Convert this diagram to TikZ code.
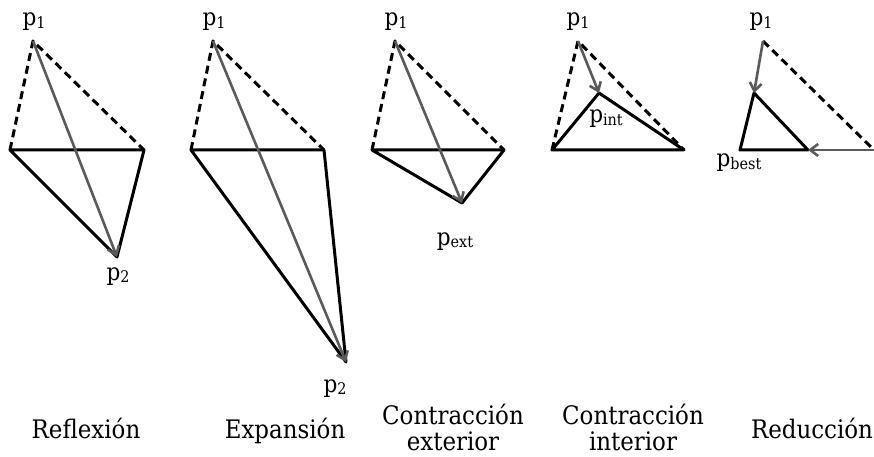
\documentclass[tikz,border=0pt]{standalone}
\usepackage{fontspec}
\setmainfont{DejaVu Serif Condensed}
\usetikzlibrary{arrows.meta}
\definecolor{arrowgray}{HTML}{5A5A5A}
\newcommand{\sbs}[1]{\raisebox{-0.12em}{\fontsize{16}{16}\selectfont #1}}
\tikzset{
  edge/.style={line width=3pt, draw=black, line join=round},
  dashedge/.style={edge, dash pattern=on 8pt off 5pt},
  move/.style={line width=2.6pt, draw=arrowgray, -{Straight Barb[length=8pt,width=12pt]}},
  lbl/.style={font=\fontsize{24}{24}\selectfont, anchor=base, inner sep=0pt},
  caption/.style={font=\fontsize{25.5}{26}\selectfont, anchor=base, inner sep=0pt}
}
\begin{document}
\begin{tikzpicture}[x=1pt,y=-1pt]
\useasboundingbox (0,0) rectangle (874,457);
% ---- Panel 1: Reflexion
\coordinate (a1) at (33,41);
\coordinate (a2) at (10,150);
\coordinate (a3) at (144,150);
\coordinate (a4) at (117,257);
\draw[dashedge] (a2) -- (a1) -- (a3);
\draw[edge] (a2) -- (a3) -- (a4) -- cycle;
\draw[move] (a1) -- (a4);
\node[lbl] (la1) at (34,26) {p\sbs{1}};
\node[lbl] (la4) at (118,280) {p\sbs{2}};
\node[caption] (ca) at (86,438) {Reflexión};
% ---- Panel 2: Expansion
\coordinate (b1) at (213,41);
\coordinate (b2) at (191,150);
\coordinate (b3) at (324,150);
\coordinate (b4) at (346,362);
\draw[dashedge] (b2) -- (b1) -- (b3);
\draw[edge] (b2) -- (b3) -- (b4) -- cycle;
\draw[move] (b1) -- (b4);
\node[lbl] (lb1) at (214,26) {p\sbs{1}};
\node[lbl] (lb4) at (335,392) {p\sbs{2}};
\node[caption] (cb) at (285,438) {Expansión};
% ---- Panel 3: Contraccion exterior
\coordinate (c1) at (395,41);
\coordinate (c2) at (372,150);
\coordinate (c3) at (504,150);
\coordinate (c4) at (462,203);
\draw[dashedge] (c2) -- (c1) -- (c3);
\draw[edge] (c2) -- (c3) -- (c4) -- cycle;
\draw[move] (c1) -- (c4);
\node[lbl] (lc1) at (396,26) {p\sbs{1}};
\node[lbl] (lc4) at (455,245) {p\sbs{ext}};
\node[caption] (cc1) at (453,424) {Contracción};
\node[caption] (cc2) at (453,450) {exterior};
% ---- Panel 4: Contraccion interior
\coordinate (d1) at (578,41);
\coordinate (d2) at (552,150);
\coordinate (d3) at (684,150);
\coordinate (d4) at (599,93);
\draw[dashedge] (d2) -- (d1) -- (d3);
\draw[edge] (d2) -- (d3) -- (d4) -- cycle;
\draw[move] (d1) -- (d4);
\node[lbl] (ld1) at (578,26) {p\sbs{1}};
\node[lbl] (ld4) at (606,123) {p\sbs{int}};
\node[caption] (cd1) at (633,424) {Contracción};
\node[caption] (cd2) at (633,450) {interior};
% ---- Panel 5: Reduccion
\coordinate (e1) at (763,41);
\coordinate (e2) at (740,150);
\coordinate (e3) at (874,150);
\coordinate (e4) at (754,93);
\coordinate (e5) at (808,150);
\draw[dashedge] (e1) -- (e3);
\draw[edge] (e2) -- (e4) -- (e5) -- cycle;
\draw[move] (e1) -- (e4);
\draw[move] (e3) -- (e5);
\node[lbl] (le1) at (761,26) {p\sbs{1}};
\node[lbl] (le2) at (739,167) {p\sbs{best}};
\node[caption] (ce) at (812,438) {Reducción};
\end{tikzpicture}
\end{document}
